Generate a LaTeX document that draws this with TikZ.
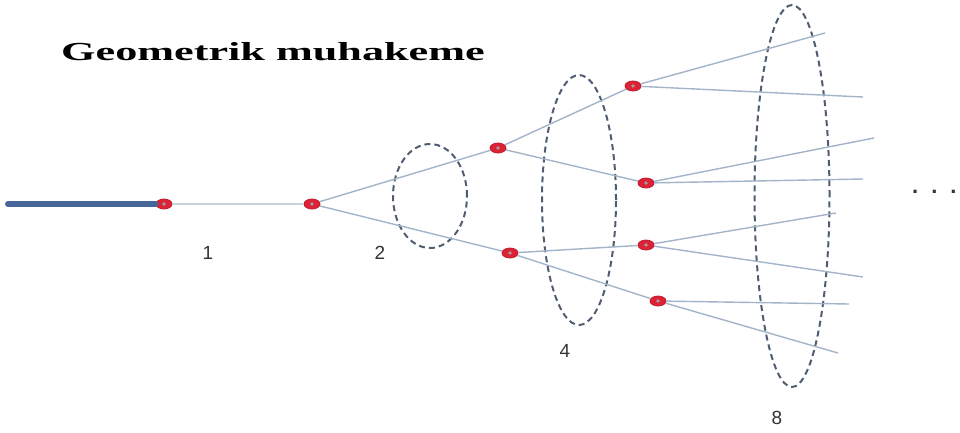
\documentclass[tikz,border=0pt]{standalone}
\usepackage{fontspec}
\setmainfont{Liberation Serif}
\newfontfamily\labelfont{Liberation Sans}
\usepackage{xcolor}
\usepackage{tikz}
\usetikzlibrary{shapes.geometric}

\definecolor{branchblue}{HTML}{A3B4C9}
\definecolor{stemgray}{HTML}{C9D3DF}
\definecolor{tailblue}{HTML}{46669A}
\definecolor{ringgray}{HTML}{4F5D72}
\definecolor{dotred}{HTML}{DD2236}

\begin{document}
\begin{tikzpicture}[x=1pt, y=-1pt,
  dot/.style={ellipse, draw=dotred!85!black, fill=dotred, line width=0.8pt, minimum width=16pt, minimum height=10pt, inner sep=0pt,
    path picture={\fill[gray!75] (path picture bounding box.center) circle (1.8pt);}},
  branch/.style={draw=branchblue, line width=1.4pt},
  ring/.style={draw=ringgray, line width=2pt, dash pattern=on 6pt off 4pt},
  lbl/.style={font=\labelfont\fontsize{19}{19}\selectfont, text=black!80}]
  \useasboundingbox (0,0) rectangle (960,432);

  % title
  \node[font=\bfseries\fontsize{26}{27}\selectfont] (title) at (273,52) {\scalebox{1.7}[1]{Geometrik muhakeme}};

  % groups per level
  \draw[ring] (430,196) ellipse [x radius=37pt, y radius=52pt];
  \draw[ring] (579,200) ellipse [x radius=37pt, y radius=125pt];
  \draw[ring] (792,196) ellipse [x radius=37.5pt, y radius=191pt];

  % branching points
  \coordinate (tail) at (8,204);
  \node[dot] (r1) at (164,204) {};
  \node[dot] (r2) at (312,204) {};
  \node[dot] (r3) at (498,148) {};
  \node[dot] (r4) at (510,253) {};
  \node[dot] (r5) at (633,86) {};
  \node[dot] (r6) at (646,183) {};
  \node[dot] (r7) at (646,245) {};
  \node[dot] (r8) at (658,301) {};

  % free ends
  \foreach \n/\x/\y in {e1/825/33, e2/863/97, e3/874/138, e4/863/179, e5/836/213, e6/863/277, e7/849/304, e8/838/353}
    \coordinate (\n) at (\x,\y);

  \draw[draw=tailblue, line width=6pt, line cap=round] (tail) -- (r1);
  \draw[draw=stemgray, line width=2.6pt] (r1) -- (r2);
  \foreach \a/\b in {r2/r3, r2/r4, r3/r5, r3/r6, r4/r7, r4/r8}
    \draw[branch] (\a) -- (\b);
  \foreach \a/\b in {r5/e1, r5/e2, r6/e3, r6/e4, r7/e5, r7/e6, r8/e7, r8/e8}
    \draw[branch] (\a) -- (\b);

  % counts
  \node[lbl] (l1) at (208,253) {1};
  \node[lbl] (l2) at (380,253) {2};
  \node[lbl] (l4) at (565,351) {4};
  \node[lbl] (l8) at (777,418) {8};
  \node[lbl, font=\labelfont\bfseries\fontsize{22}{22}\selectfont, anchor=base west, inner sep=0pt] (more) at (912,193) {.\hspace{13pt}.\hspace{13pt}.};
\end{tikzpicture}
\end{document}
